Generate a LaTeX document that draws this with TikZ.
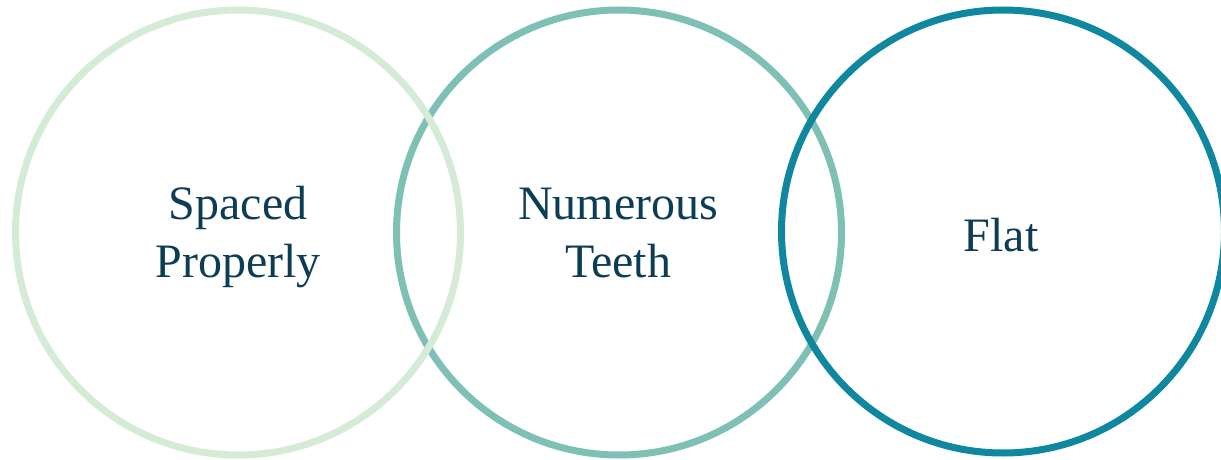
\documentclass[tikz,border=0pt]{standalone}
\usepackage{fontspec}
\setmainfont{Liberation Serif}
\definecolor{cone}{HTML}{D4EBD5}
\definecolor{ctwo}{HTML}{7EBFB6}
\definecolor{cthree}{HTML}{0E879F}
\definecolor{ctext}{HTML}{0D3D55}
\tikzset{
  ring/.style={line width=7pt},
  label/.style={text=ctext, font=\fontsize{48}{58}\selectfont, align=center, inner sep=0pt}
}
\begin{document}
\begin{tikzpicture}[x=1pt,y=1pt]
\useasboundingbox (0,0) rectangle (1221,-460);
\clip (0,0) rectangle (1221,-460);
\draw[ring, ctwo] (619,-232.5) circle (222.5);
\draw[ring, cone] (238,-232.5) circle (222.5);
\draw[ring, cthree] (1003,-231.5) circle (221.5);
\node[label, anchor=center] (sp) at (238,-237) {Spaced\\Properly};
\node[label, anchor=center] (nt) at (618,-233) {Numerous\\Teeth};
\node[label, anchor=base] (fl) at (1001,-251) {Flat};
\end{tikzpicture}
\end{document}
